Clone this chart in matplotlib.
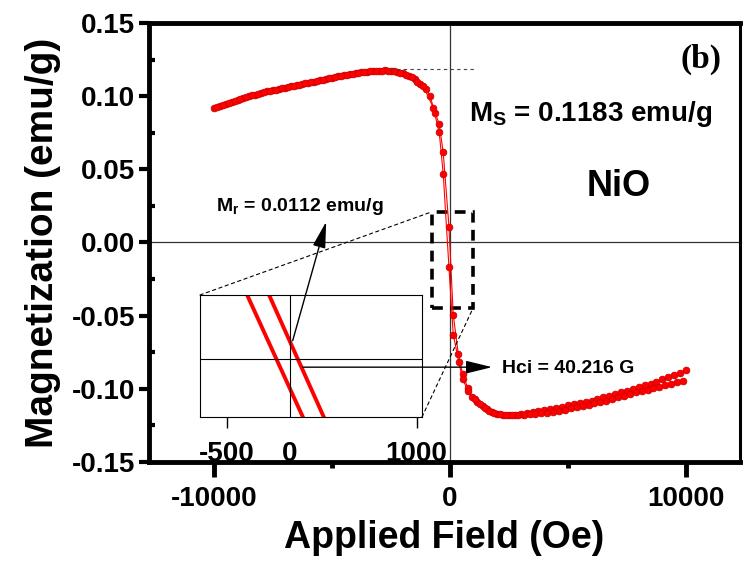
import matplotlib
matplotlib.use("Agg")
import matplotlib.pyplot as plt
from matplotlib.patches import Rectangle, ConnectionPatch

plt.rcParams['font.family'] = ['Liberation Sans', 'DejaVu Sans']
plt.rcParams['font.weight'] = 'bold'
plt.rcParams['axes.unicode_minus'] = False
plt.rcParams['mathtext.fontset'] = 'custom'
plt.rcParams['mathtext.rm'] = 'Liberation Sans:bold'
plt.rcParams['mathtext.bf'] = 'Liberation Sans:bold'

# branch 1 (higher near H = 0)
h_1 = [-10000, -9750, -9500, -9250, -9000, -8750, -8500, -8250, -8000, -7750,
       -7500, -7250, -7000, -6750, -6500, -6250, -6000, -5750, -5500, -5250,
       -5000, -4750, -4500, -4250, -4000, -3750, -3500, -3250, -3000, -2750,
       -2500, -2250, -2000, -1750, -1500, -1250, -1000, -847, -636, -453,
       -284, -42, 140, 352, 538, 750, 945, 1157, 1386, 1555,
       1767, 1979, 2250, 2500, 2750, 3000, 3250, 3500, 3750, 4000,
       4250, 4500, 4750, 5000, 5250, 5500, 5750, 6000, 6250, 6500,
       6750, 7000, 7250, 7500, 7750, 8000, 8250, 8500, 8750, 9000,
       9250, 9500, 9750, 10000]
m_1 = [0.0918, 0.0933, 0.0948, 0.0962, 0.0975, 0.0988, 0.1000, 0.1011, 0.1022, 0.1032,
       0.1041, 0.1050, 0.1058, 0.1067, 0.1075, 0.1084, 0.1092, 0.1100, 0.1109, 0.1117,
       0.1126, 0.1135, 0.1143, 0.1150, 0.1157, 0.1163, 0.1168, 0.1172, 0.1175, 0.1176,
       0.1172, 0.1165, 0.1155, 0.1140, 0.1115, 0.1085, 0.1050, 0.1002, 0.0888, 0.0809,
       0.0616, 0.0109, -0.0493, -0.0759, -0.0900, -0.0991, -0.1055, -0.1089, -0.1118, -0.1139,
       -0.1157, -0.1170, -0.1177, -0.1179, -0.1177, -0.1172, -0.1166, -0.1160, -0.1154, -0.1147,
       -0.1139, -0.1130, -0.1122, -0.1113, -0.1105, -0.1097, -0.1089, -0.1080, -0.1069, -0.1058,
       -0.1047, -0.1035, -0.1024, -0.1013, -0.1002, -0.0990, -0.0977, -0.0964, -0.0950, -0.0935,
       -0.0920, -0.0905, -0.0889, -0.0872]

# branch 2 (lower near H = 0)
h_2 = [-9875, -9625, -9375, -9125, -8875, -8625, -8375, -8125, -7875, -7625,
       -7375, -7125, -6875, -6625, -6375, -6125, -5875, -5625, -5375, -5125,
       -4875, -4625, -4375, -4125, -3875, -3625, -3375, -3125, -2875, -2625,
       -2375, -2125, -1875, -1625, -1375, -1125, -708, -453, -284, -42,
       140, 381, 538, 775, 1050, 1270, 1470, 1660, 1870, 2125,
       2375, 2625, 2875, 3125, 3375, 3625, 3875, 4125, 4375, 4625,
       4875, 5125, 5375, 5625, 5875, 6125, 6375, 6625, 6875, 7125,
       7375, 7625, 7875, 8125, 8375, 8625, 8875, 9125, 9375, 9625, 9875]
m_2 = [0.0924, 0.0939, 0.0954, 0.0968, 0.0981, 0.0993, 0.1005, 0.1016, 0.1026, 0.1036,
       0.1045, 0.1053, 0.1062, 0.1070, 0.1079, 0.1087, 0.1095, 0.1104, 0.1112, 0.1121,
       0.1130, 0.1138, 0.1146, 0.1153, 0.1160, 0.1165, 0.1170, 0.1173, 0.1175, 0.1174,
       0.1169, 0.1160, 0.1148, 0.1128, 0.1100, 0.1068, 0.0922, 0.0752, 0.0468, -0.0168,
       -0.0629, -0.0820, -0.0936, -0.1014, -0.1072, -0.1104, -0.1129, -0.1149, -0.1164, -0.1175,
       -0.1179, -0.1179, -0.1178, -0.1176, -0.1173, -0.1170, -0.1167, -0.1162, -0.1156, -0.1150,
       -0.1142, -0.1134, -0.1126, -0.1117, -0.1108, -0.1099, -0.1090, -0.1080, -0.1069, -0.1058,
       -0.1047, -0.1036, -0.1025, -0.1015, -0.1005, -0.0995, -0.0985, -0.0975, -0.0966, -0.0956, -0.0946]

# zoomed inset: two straight segments of the loop near the origin
inset_h_1 = [-166, 268]
inset_h_2 = [-339, 103]
inset_m = [0.0422, -0.0382]

ms_value = 0.1183
zoom_box = (-763, -0.045, 1738, 0.066)  # x, y, width, height

fig = plt.figure(figsize=(7.44, 5.61), dpi=100)
ax = fig.add_axes([0.2003, 0.1765, 0.7943, 0.7825])

style = dict(color='red', lw=0.8, marker='o', ms=4.8, mfc='red', mec='#cc0000', mew=0.6)
ax.plot(h_1, m_1, **style)
ax.plot(h_2, m_2, **style)

ax.axhline(0, color='#333333', lw=0.9, zorder=0)
ax.axvline(0, color='#333333', lw=0.9, zorder=0)
ax.plot([-2540, 1060], [ms_value, ms_value], color='#444444', lw=0.8, ls=(0, (3, 3)))

ax.set_xlim(-12750, 12290)
ax.set_ylim(-0.15, 0.15)
ax.set_xticks([-10000, 0, 10000])
ax.set_xticks([-5000, 5000], minor=True)
ax.set_yticks([-0.15, -0.10, -0.05, 0.00, 0.05, 0.10, 0.15])
ax.set_yticks([-0.125, -0.075, -0.025, 0.025, 0.075, 0.125], minor=True)
ax.set_yticklabels(['-0.15', '-0.10', '-0.05', '0.00', '0.05', '0.10', '0.15'])
ax.tick_params(axis='x', which='major', direction='out', length=11, width=3.5, labelsize=20, pad=6)
ax.tick_params(axis='x', which='minor', direction='out', length=4, width=3.5)
ax.tick_params(axis='y', which='major', direction='out', length=7, width=3, labelsize=20, pad=3)
ax.tick_params(axis='y', which='minor', direction='in', length=4, width=3)
for lab in ax.get_xticklabels() + ax.get_yticklabels():
    lab.set_fontweight('bold')

for side in ['left', 'bottom', 'top']:
    ax.spines[side].set_linewidth(3.5)
ax.spines['right'].set_linewidth(2.2)

ax.set_xlabel('Applied Field (Oe)', fontsize=27, fontweight='bold', labelpad=6)
ax.set_ylabel('Magnetization (emu/g)', fontsize=28, fontweight='bold', labelpad=8)

ax.text(0.934, 0.918, '(b)', transform=ax.transAxes, ha='center', va='center',
        fontsize=24, fontweight='bold', family='Liberation Serif')
ax.text(0.748, 0.793, r'M$_\mathrm{S}$ = 0.1183 emu/g', transform=ax.transAxes,
        ha='center', va='center', fontsize=20, fontweight='bold')
ax.text(0.794, 0.627, 'NiO', transform=ax.transAxes, ha='center', va='center',
        fontsize=26, fontweight='bold')
ax.text(0.2555, 0.582, r'M$_\mathrm{r}$ = 0.0112 emu/g', transform=ax.transAxes,
        ha='center', va='center', fontsize=14, fontweight='bold')
ax.text(0.597, 0.2136, 'Hci = 40.216 G', transform=ax.transAxes, ha='left', va='center',
        fontsize=14, fontweight='bold')

bx, by, bw, bh = zoom_box
ax.add_patch(Rectangle((bx, by), bw, bh, fill=False, ec='black', lw=2.6, ls=(0, (3, 2))))

axins = fig.add_axes([0.2688, 0.2567, 0.2984, 0.2175])
axins.plot(inset_h_1, inset_m, color='red', lw=2.8)
axins.plot(inset_h_2, inset_m, color='red', lw=2.8)
axins.axhline(0, color='black', lw=0.8)
axins.axvline(0, color='black', lw=0.8)
axins.set_xlim(-710, 1042)
axins.set_ylim(-0.038, 0.042)
axins.set_xticks([-500, 1000])
axins.set_xticks([0], labels=['0'], minor=True)
axins.set_yticks([])
axins.tick_params(axis='x', which='major', direction='out', length=8, width=1, labelsize=20, pad=9)
axins.tick_params(axis='x', which='minor', length=0, labelsize=20, pad=17)
for lab in axins.get_xticklabels() + axins.get_xticklabels(minor=True):
    lab.set_fontweight('bold')
for sp in axins.spines.values():
    sp.set_linewidth(0.8)

# arrows drawn on top of the inset
arrow = dict(arrowstyle='-|>,head_width=0.22,head_length=0.9', color='black', lw=1.0,
             mutation_scale=18)
axins.annotate('', xy=(-5212, 0.0160), xytext=(-6695, -0.0689), xycoords=ax.transData,
               textcoords=ax.transData, arrowprops=arrow, annotation_clip=False)
axins.annotate('', xy=(1907, -0.0852), xytext=(-6356, -0.0852), xycoords=ax.transData,
               textcoords=ax.transData, arrowprops=arrow, annotation_clip=False)

con1 = ConnectionPatch(xyA=(0, 1), coordsA=axins.transAxes, xyB=(bx, by + bh), coordsB=ax.transData,
                       color='black', lw=0.8, ls=(0, (3, 3)))
con2 = ConnectionPatch(xyA=(1, 0), coordsA=axins.transAxes, xyB=(bx + bw, by), coordsB=ax.transData,
                       color='black', lw=0.8, ls=(0, (3, 3)))
fig.add_artist(con1)
fig.add_artist(con2)

fig.savefig('out.png', dpi=100)
